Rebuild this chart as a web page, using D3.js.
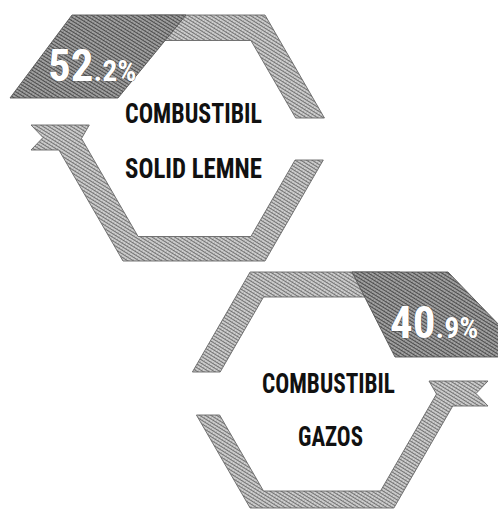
<!DOCTYPE html>
<html>
<head>
<meta charset="utf-8">
<script src="https://cdn.jsdelivr.net/npm/d3@7/dist/d3.min.js"></script>
<style>
  html, body { margin: 0; padding: 0; background: #ffffff; }
  svg { display: block; }
  .lbl { font-family: "Liberation Sans Narrow", "Roboto Condensed", "DejaVu Sans Condensed", "Open Sans", sans-serif; font-weight: bold; font-stretch: condensed; }
</style>
</head>
<body>
<svg id="chart" width="498" height="513"></svg>
<script>
// ---------------- data ----------------
const categories = ["COMBUSTIBIL SOLID LEMNE", "COMBUSTIBIL GAZOS"];
const labelLine1 = ["COMBUSTIBIL", "COMBUSTIBIL"];
const labelLine2 = ["SOLID LEMNE", "GAZOS"];
const shares = [52.2, 40.9];

// ---------------- layout ----------------
const W = 498, H = 513;
const svg = d3.select("#chart");
const K = Math.tan(Math.PI / 6); // slope of hexagon diagonals (dx/dy)

const defs = svg.append("defs");
function halftone(id, bg, fg, angle) {
  const p = defs.append("pattern").attr("id", id)
    .attr("patternUnits", "userSpaceOnUse").attr("width", 3).attr("height", 3)
    .attr("patternTransform", `rotate(${angle})`);
  p.append("rect").attr("width", 3).attr("height", 3).attr("fill", bg);
  p.append("rect").attr("width", 3).attr("height", 1).attr("fill", fg);
  p.append("circle").attr("cx", 1.5).attr("cy", 2.2).attr("r", 0.45).attr("fill", fg);
}
halftone("bandTex", "#cfcfcf", "#727272", 32);
halftone("tagTex", "#a2a2a2", "#4c4c4c", 32);

// hexagon helper (flat top)
function hex(cx, cy, R, Hh) {
  const half = R - Hh * K;
  return {
    cx, cy, R, Hh,
    top: cy - Hh, bottom: cy + Hh,
    tl: [cx - half, cy - Hh], tr: [cx + half, cy - Hh],
    bl: [cx - half, cy + Hh], br: [cx + half, cy + Hh],
    lp: [cx - R, cy], rp: [cx + R, cy],
    left: y => cx - R + Math.abs(y - cy) * K,
    right: y => cx + R - Math.abs(y - cy) * K
  };
}

const line = d3.line().curve(d3.curveLinearClosed);
const fmt = d3.format(".1f");

// shape specs (geometry only)
const shapes = [
  { outer: hex(194, 138, 142, 123), inner: hex(194.5, 138.5, 113, 98), side: "left",
    cutA: 118, cutB: 160, tailTop: 125, tailBot: 150, tailTip: 31, notch: 12,
    tag: [[72, 15], [186, 15], [118, 98], [10, 98]],
    textX: [125, 125], textW: [137, 137], base: [123, 178],
    pctX: 48, pctBase: 81 },
  { outer: hex(322, 390, 140, 118), inner: hex(322, 394, 114.5, 97), side: "right",
    cutA: 372, cutB: 415, tailTop: 381, tailBot: 406, tailTip: 488, notch: 12,
    tag: [[352, 272], [448, 272], [530, 357], [395, 357]],
    textX: [262, 298], textW: [133, 65], base: [393, 446],
    pctX: 390, pctBase: 338 }
];

shapes.forEach((s, i) => {
  const O = s.outer, I = s.inner;
  const g = svg.append("g");
  let upper, lower;
  if (s.side === "left") {
    upper = [[150, O.top], O.tr, [O.right(s.cutA), s.cutA], [I.right(s.cutA), s.cutA], I.tr, [150, I.top]];
    lower = [[O.right(s.cutB), s.cutB], O.br, O.bl, [O.left(s.tailBot), s.tailBot],
      [s.tailTip, s.tailBot], [s.tailTip + s.notch, (s.tailTop + s.tailBot) / 2], [s.tailTip, s.tailTop],
      [I.left(s.tailTop), s.tailTop], I.lp, I.bl, I.br, [I.right(s.cutB), s.cutB]];
  } else {
    upper = [[400, O.top], O.tl, [O.left(s.cutA), s.cutA], [I.left(s.cutA), s.cutA], I.tl, [400, I.top]];
    lower = [[O.left(s.cutB), s.cutB], O.bl, O.br, [O.right(s.tailBot), s.tailBot],
      [s.tailTip, s.tailBot], [s.tailTip - s.notch, (s.tailTop + s.tailBot) / 2], [s.tailTip, s.tailTop],
      [I.right(s.tailTop), s.tailTop], I.rp, I.br, I.bl, [I.left(s.cutB), s.cutB]];
  }
  [upper, lower].forEach(pts => {
    g.append("path").attr("d", line(pts))
      .attr("fill", "url(#bandTex)").attr("stroke", "#666").attr("stroke-width", 0.9)
      .attr("stroke-linejoin", "round");
  });
  g.append("path").attr("d", line(s.tag))
    .attr("fill", "url(#tagTex)").attr("stroke", "#555").attr("stroke-width", 0.9)
    .attr("stroke-linejoin", "round");

  // category label (two lines)
  [labelLine1[i], labelLine2[i]].forEach((t, j) => {
    g.append("text").attr("class", "lbl")
      .attr("x", s.textX[j]).attr("y", s.base[j])
      .attr("font-size", 27.5).attr("fill", "#111")
      .attr("textLength", s.textW[j]).attr("lengthAdjust", "spacingAndGlyphs")
      .text(t);
  });

  // percentage label
  const parts = fmt(shares[i]).split(".");
  const pt = g.append("text").attr("class", "lbl")
    .attr("x", s.pctX).attr("y", s.pctBase)
    .attr("fill", "#ffffff").attr("stroke", "#444").attr("stroke-width", 0.7)
    .attr("paint-order", "stroke");
  pt.append("tspan").attr("font-size", 45).text(parts[0]);
  pt.append("tspan").attr("font-size", 30).text("." + parts[1] + "%");
});
</script>
</body>
</html>
